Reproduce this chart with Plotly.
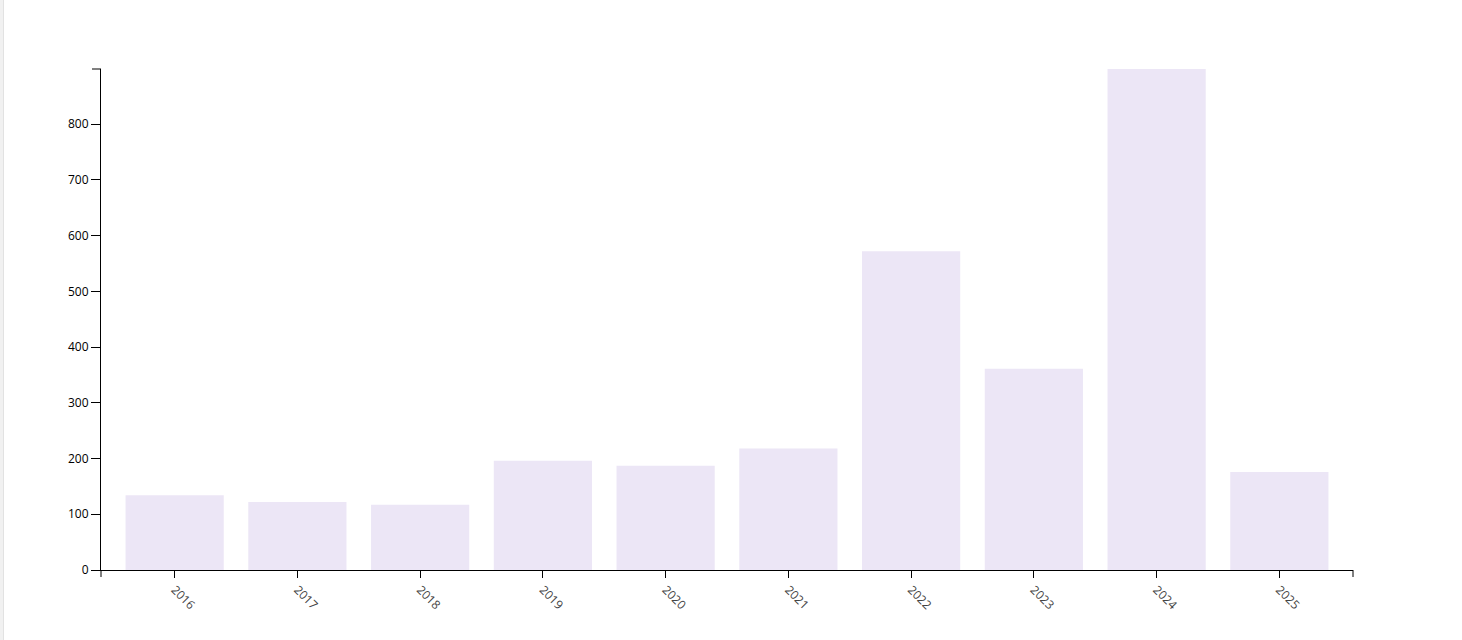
import plotly.graph_objects as go

years = ["2016", "2017", "2018", "2019", "2020", "2021", "2022", "2023", "2024", "2025"]
counts = [134, 122, 117, 196, 187, 218, 572, 361, 899, 176]
y_ticks = [0, 100, 200, 300, 400, 500, 600, 700, 800]

W, H = 1462, 640
L, R, T, B = 101, 109, 69, 70
pw, ph = W - L - R, H - T - B
PAD = 0.2          # band padding (inner and outer)
XT, YT = 7, 9      # tick lengths
FS = 12

fig = go.Figure(go.Bar(
    x=years, y=counts,
    marker=dict(color="rgb(236,230,246)", line=dict(width=0)),
    hoverinfo="x+y",
))

ymax = max(counts)

def px_to_paper_x(p):
    return (p - L) / pw

def px_to_paper_y(p):
    return (H - B - p) / ph

shapes = [
    # left page strip
    dict(type="rect", xref="paper", yref="paper",
         x0=px_to_paper_x(0), x1=px_to_paper_x(3),
         y0=px_to_paper_y(H), y1=px_to_paper_y(0),
         fillcolor="#f1f1f1", line=dict(width=0), layer="below"),
    dict(type="line", xref="paper", yref="paper",
         x0=px_to_paper_x(3.5), x1=px_to_paper_x(3.5),
         y0=px_to_paper_y(H), y1=px_to_paper_y(0),
         line=dict(color="#e2e2e2", width=1)),
    # outer ticks (d3 domain path style)
    dict(type="line", xref="paper", yref="paper",
         x0=0, x1=0, y0=0, y1=px_to_paper_y(H - B + XT),
         line=dict(color="black", width=1)),
    dict(type="line", xref="paper", yref="paper",
         x0=1, x1=1, y0=0, y1=px_to_paper_y(H - B + XT),
         line=dict(color="black", width=1)),
    dict(type="line", xref="paper", yref="paper",
         x0=px_to_paper_x(L - YT), x1=0, y0=1, y1=1,
         line=dict(color="black", width=1)),
]

n = len(years)
fig.update_layout(
    width=W, height=H,
    margin=dict(l=L, r=R, t=T, b=B, autoexpand=False),
    paper_bgcolor="white", plot_bgcolor="white",
    bargap=PAD,
    showlegend=False,
    font=dict(family="Open Sans", size=FS, color="black"),
    shapes=shapes,
    xaxis=dict(
        type="category", range=[-0.5 - PAD / 2, n - 0.5 + PAD / 2],
        showline=True, linecolor="black", linewidth=1,
        ticks="outside", ticklen=XT, tickcolor="black", tickwidth=1,
        tickangle=45, tickfont=dict(family="Open Sans", size=FS, color="#444"),
        showgrid=False, zeroline=False, fixedrange=True,
    ),
    yaxis=dict(
        range=[0, ymax], tickvals=y_ticks,
        showline=True, linecolor="black", linewidth=1,
        ticks="outside", ticklen=YT, tickcolor="black", tickwidth=1,
        tickfont=dict(family="Open Sans", size=FS, color="black"),
        showgrid=False, zeroline=False, fixedrange=True,
    ),
)

fig.write_html(
    "out.html",
    config={"displayModeBar": False},
    post_script="document.body.style.margin='0';document.body.style.overflow='hidden';",
)
